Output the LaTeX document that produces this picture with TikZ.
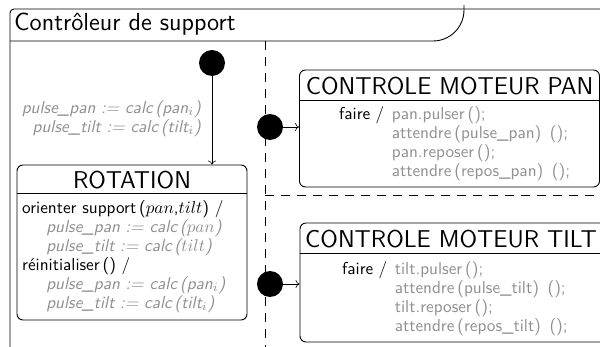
\documentclass[tikz,border=0pt]{standalone}
\usepackage{fontspec}
\usepackage{graphicx}
\usetikzlibrary{arrows.meta}
\definecolor{actgrey}{rgb}{0.56,0.56,0.56}
\newcommand{\bodyfont}{\sffamily\fontsize{10}{11}\selectfont}
\newcommand{\headfont}{\sffamily\fontsize{14.4}{16}\selectfont}
\newcommand{\gr}[1]{\textcolor{actgrey}{#1}}
\newcommand{\enlarge}[1]{\scalebox{1.72}{#1}}
\newcommand{\enlargehead}[1]{\scalebox{1.69}{#1}}
\begin{document}
\begin{tikzpicture}[x=1pt,y=-1pt,
  frameline/.style={line width=0.9pt},
  statebox/.style={draw, line width=0.9pt, rounded corners=6pt, inner sep=0pt},
  initdot/.style={circle, fill=black, inner sep=0pt, minimum size=26pt},
  region/.style={line width=0.8pt, dash pattern=on 9pt off 7pt},
  trans/.style={line width=0.6pt, -{To[length=4pt,width=8pt]}},
  headtext/.style={font=\headfont, inner sep=0pt},
  bodytext/.style={font=\bodyfont, inner sep=0pt}]
\useasboundingbox (0,0) rectangle (600,347);
\clip (0,0) rectangle (600,347);
% outer frame
\draw[frameline, rounded corners=4pt] (10,360) -- (10,9) -- (640,9);
\draw[frameline, rounded corners=31pt] (10,41) -- (464,41) -- (464,5);
\node[headtext, anchor=base west] (title) at (14,31) {\enlarge{Contr\^oleur de support}};
% regions
\draw[region] (265,41) -- (265,360);
\draw[region] (265,195) -- (620,195);
% ROTATION
\node[statebox, minimum width=230pt, minimum height=155pt] (rot) at (132,242.5) {};
\draw[line width=0.9pt] (rot.west |- 0,193) -- (rot.east |- 0,193);
\node[headtext] (rothead) at (132,180) {\enlargehead{ROTATION}};
\node[bodytext, anchor=north west] (rotbody) at (22,200)
 {\enlarge{\begin{tabular}{@{}l@{}}
  orienter support\,($pan$,$tilt$) /\\
  \hspace*{14pt}\gr{\itshape pulse\_pan := calc\,($pan$)}\\
  \hspace*{14pt}\gr{\itshape pulse\_tilt := calc\,($tilt$)}\\
  r\'einitialiser\,() /\\
  \hspace*{14pt}\gr{\itshape pulse\_pan := calc\,(pan$_i$)}\\
  \hspace*{14pt}\gr{\itshape pulse\_tilt := calc\,(tilt$_i$)}
  \end{tabular}}};
% initial 1
\node[initdot] (i1) at (212,63) {};
\draw[trans] (i1) -- (i1 |- rot.north);
\node[bodytext, anchor=east] (lab1) at (201,119)
 {\enlarge{\begin{tabular}{@{}r@{}}
  \gr{\itshape pulse\_pan := calc\,(pan$_i$)}\\
  \gr{\itshape pulse\_tilt := calc\,(tilt$_i$)}
  \end{tabular}}};
% PAN
\node[statebox, minimum width=300pt, minimum height=117pt] (pan) at (449.5,128.5) {};
\draw[line width=0.9pt] (pan.west |- 0,100) -- (pan.east |- 0,100);
\node[headtext] (panhead) at (449.5,86) {\enlargehead{CONTROLE MOTEUR PAN}};
\node[bodytext, anchor=north west] (panbody) at (339,106)
 {\enlarge{\begin{tabular}{@{}l@{\hspace{3pt}}c@{\hspace{4.5pt}}l@{}}
  faire & / & \gr{pan.pulser\,();}\\
  & & \gr{attendre\,(pulse\_pan)\ \,();}\\
  & & \gr{pan.reposer\,();}\\
  & & \gr{attendre\,(repos\_pan)\ \,();}
  \end{tabular}}};
\node[initdot] (i2) at (270,127) {};
\draw[trans] (i2) -- (pan.west |- i2);
% TILT
\node[statebox, minimum width=320pt, minimum height=119pt] (tilt) at (460,282.5) {};
\draw[line width=0.9pt] (tilt.west |- 0,253) -- (tilt.east |- 0,253);
\node[headtext, anchor=west] (tilthead) at (305,239) {\enlargehead{CONTROLE MOTEUR TILT}};
\node[bodytext, anchor=north west] (tiltbody) at (342,261)
 {\enlarge{\begin{tabular}{@{}l@{\hspace{3pt}}c@{\hspace{4.5pt}}l@{}}
  faire & / & \gr{tilt.pulser\,();}\\
  & & \gr{attendre\,(pulse\_tilt)\ \,();}\\
  & & \gr{tilt.reposer\,();}\\
  & & \gr{attendre\,(repos\_tilt)\ \,();}
  \end{tabular}}};
\node[initdot] (i3) at (270,284) {};
\draw[trans] (i3) -- (tilt.west |- i3);
\end{tikzpicture}
\end{document}
